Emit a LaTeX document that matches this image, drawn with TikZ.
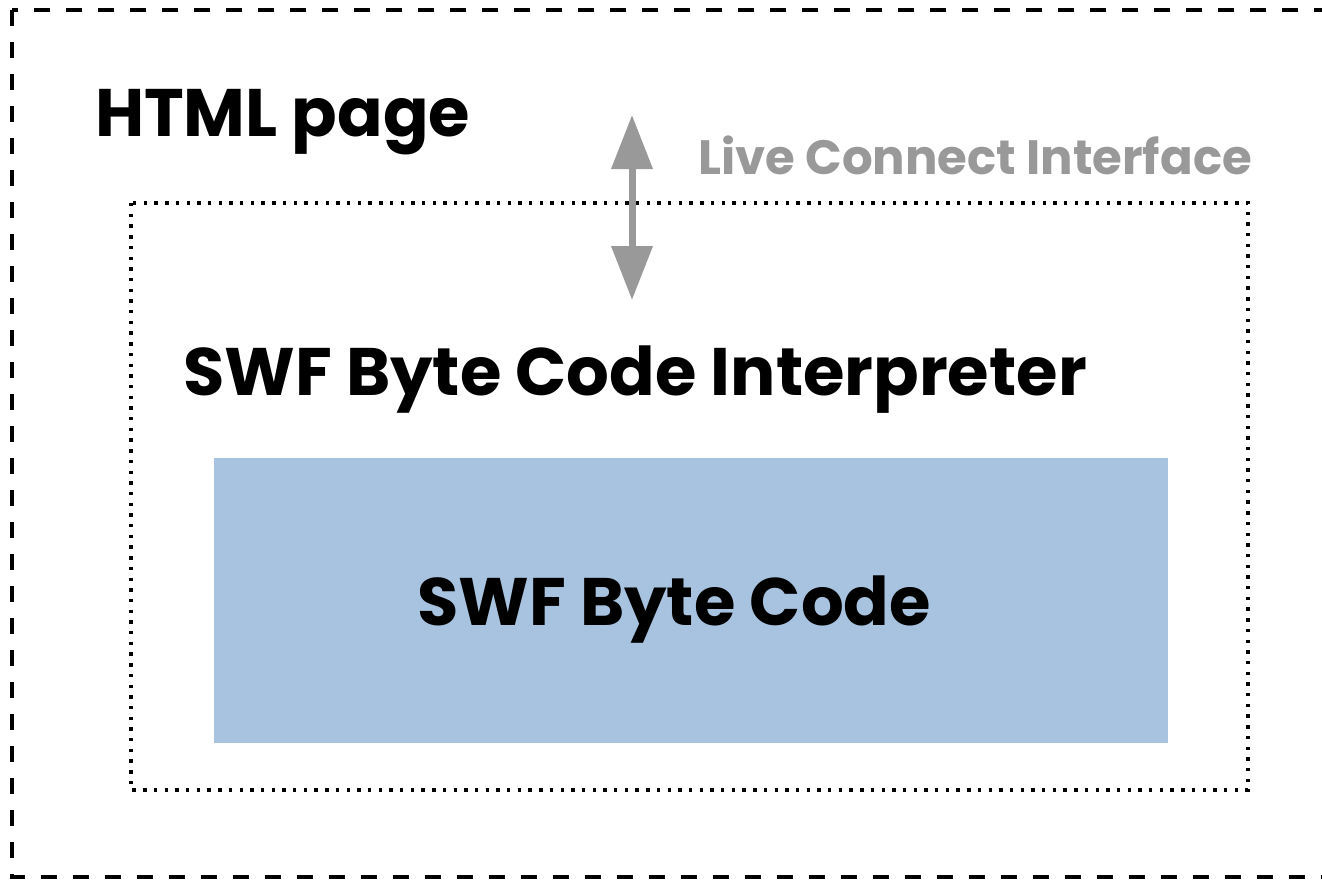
\documentclass[tikz,border=0pt]{standalone}
\usepackage{fontspec}
\setmainfont{Poppins}
\usepackage{xcolor}
\usepackage{tikz}
\usetikzlibrary{positioning,arrows.meta}
\definecolor{codeBlue}{HTML}{A8C3E0}
\definecolor{linkGray}{HTML}{999999}

\begin{document}
\begin{tikzpicture}[
  x=0.5pt, y=-0.5pt,
  every node/.style={inner sep=0pt, outer sep=0pt},
  pageframe/.style={draw=black, line width=2.3pt, dash pattern=on 8pt off 8pt},
  vmframe/.style={draw=black, line width=1.7pt, dash pattern=on 1.7pt off 3.65pt},
  bigtitle/.style={font=\fontsize{33.6}{38}\selectfont\bfseries, anchor=base west},
  linklabel/.style={font=\fontsize{24.1}{28}\selectfont\bfseries, text=linkGray, anchor=base west},
  arrow/.style={{Triangle[length=27pt,width=20pt]}-{Triangle[length=27pt,width=20pt]},
                line width=3.5pt, color=linkGray}
]
  \useasboundingbox (0,0) rectangle (1322,880);

  % outer page and interpreter frames
  \draw[pageframe] (12,10) rectangle (1340,877);
  \draw[vmframe] (131,203) rectangle (1248,790);
  \node[fill=codeBlue, minimum width=477pt, minimum height=142.5pt] (code) at (691,600.5) {};

  \node[bigtitle] (page)   at (95,136)  {HTML page};
  \node[bigtitle] (interp) at (183,395) {SWF Byte Code Interpreter};
  \node[bigtitle, anchor=base] (bytecode) at (674,625) {SWF Byte Code};
  \node[linklabel] (lci) at (698,174) {Live Connect Interface};

  \coordinate (htmlEnd) at (632,115);
  \coordinate (vmEnd)   at (632,300);
  \draw[arrow] (htmlEnd) -- (vmEnd);
\end{tikzpicture}
\end{document}
